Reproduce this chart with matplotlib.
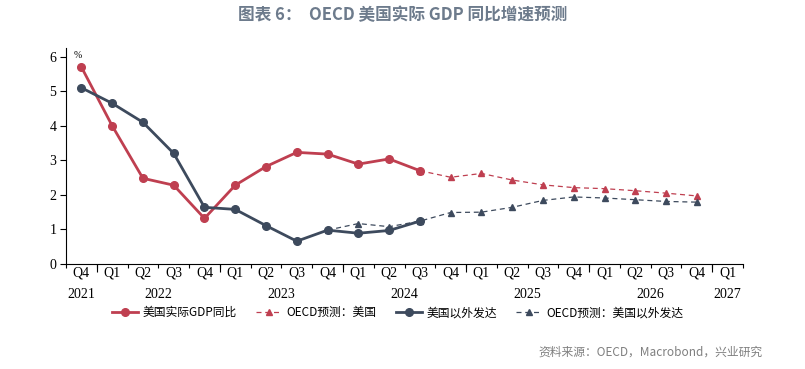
import numpy as np
import matplotlib
matplotlib.use("Agg")
import matplotlib.pyplot as plt
from matplotlib import transforms

plt.rcParams['font.family'] = ['Noto Sans CJK SC', 'DejaVu Sans']

# quarters Q4 2021 .. Q1 2027
quarters = ['Q4'] + ['Q1', 'Q2', 'Q3', 'Q4'] * 5 + ['Q1']
years = ['2021', '2022', '2023', '2024', '2025', '2026', '2027']
year_pos = [0, 2.5, 6.5, 10.5, 14.5, 18.5, 21]
year_bounds = [0.5, 4.5, 8.5, 12.5, 16.5, 20.5]

us_actual = [5.7, 4.0, 2.48, 2.28, 1.32, 2.28, 2.82, 3.23, 3.18, 2.89, 3.04, 2.70]
us_fcst = [2.70, 2.51, 2.62, 2.43, 2.29, 2.21, 2.18, 2.12, 2.05, 1.97]      # from Q3 2024
oth_actual = [5.10, 4.65, 4.10, 3.20, 1.64, 1.58, 1.11, 0.66, 0.98, 0.89, 0.97, 1.24]
oth_fcst = [0.98, 1.17, 1.08, 1.24, 1.49, 1.50, 1.64, 1.84, 1.94, 1.91, 1.86, 1.81, 1.79]  # from Q4 2023

red = '#bf3f50'
navy = '#3d4a5d'

fig = plt.figure(figsize=(8.05, 3.69), dpi=100)
ax = fig.add_axes([66/805, 1-264/369, 677/805, 216/369])

x_act = np.arange(len(us_actual))
ax.plot(x_act, us_actual, color=red, lw=2.0, marker='o', ms=5.5, label='美国实际GDP同比', zorder=4)
x_uf = np.arange(11, 11 + len(us_fcst))
ax.plot(x_uf, us_fcst, color=red, lw=0.9, ls=(0, (4, 3)), marker='^', ms=5, label='OECD预测：美国', zorder=3)
ax.plot(x_act, oth_actual, color=navy, lw=2.0, marker='o', ms=5.5, label='美国以外发达', zorder=4)
x_of = np.arange(8, 8 + len(oth_fcst))
ax.plot(x_of, oth_fcst, color=navy, lw=0.9, ls=(0, (4, 3)), marker='^', ms=5, label='OECD预测：美国以外发达', zorder=3)

ax.set_xlim(-0.5, len(quarters) - 0.5)
ax.set_ylim(0, 6.25)
ax.set_yticks(range(7))
ax.set_yticklabels([str(v) for v in range(7)], family='Liberation Serif', fontsize=10)
ax.set_xticks(range(len(quarters)))
ax.set_xticklabels(quarters, family='Liberation Serif', fontsize=10)
ax.tick_params(axis='x', which='major', length=0, pad=2)
ax.set_xticks(np.arange(-0.5, len(quarters)), minor=True)
ax.tick_params(axis='x', which='minor', length=3, width=0.8)
ax.tick_params(axis='y', length=4, width=0.8, pad=3)

sec = ax.secondary_xaxis('bottom')
sec.set_xticks(year_bounds)
sec.set_xticklabels([''] * len(year_bounds))
sec.tick_params(length=6, width=0.8)
sec.spines['bottom'].set_visible(False)

trans = transforms.blended_transform_factory(ax.transData, ax.transAxes)
for yp, yl in zip(year_pos, years):
    ax.text(yp, -0.112, yl, transform=trans, ha='center', va='top',
            family='Liberation Serif', fontsize=10)

for s in ['top', 'right']:
    ax.spines[s].set_visible(False)
for s in ['left', 'bottom']:
    ax.spines[s].set_linewidth(0.8)

ax.text(0.012, 0.985, '%', transform=ax.transAxes, fontsize=7, family='Liberation Serif',
        ha='left', va='top')

ax.legend(loc='center', bbox_to_anchor=(0.49, -0.225), ncol=4, frameon=False,
          fontsize=8.5, handlelength=2.2, columnspacing=1.6, handletextpad=0.4)

fig.text(0.5, 0.958, '图表 6：  OECD 美国实际 GDP 同比增速预测', ha='center', va='center',
         fontsize=12, fontweight='bold', color='#6d7b8c')
fig.text(0.947, 0.045, '资料来源：OECD，Macrobond，兴业研究', ha='right', va='center',
         fontsize=8.5, color='#7f7f7f')

fig.savefig('out.png', dpi=100)
